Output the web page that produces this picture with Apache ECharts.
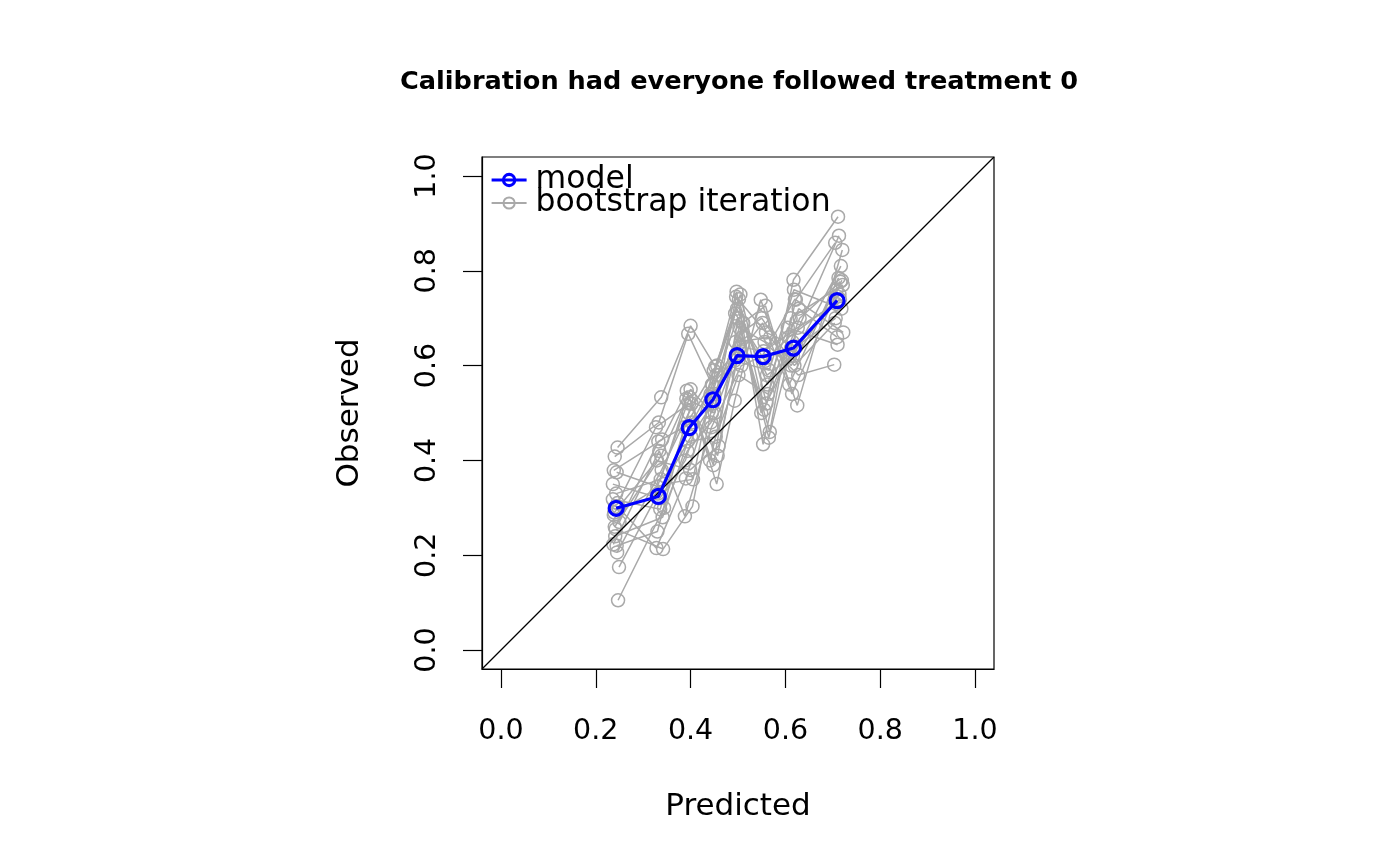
<!DOCTYPE html>
<html>
<head>
<meta charset="utf-8">
<title>Calibration</title>
<script src="https://cdn.jsdelivr.net/npm/echarts@6/dist/echarts.min.js"></script>
<style>
  html, body { margin: 0; padding: 0; background: #fff; }
  #chart { width: 1400px; height: 866px; }
</style>
</head>
<body>
<div id="chart"></div>
<script>
var tickValues = [0, 0.2, 0.4, 0.6, 0.8, 1.0];

var modelX = [0.243, 0.332, 0.397, 0.447, 0.498, 0.553, 0.617, 0.709];
var modelY = [0.299, 0.324, 0.469, 0.528, 0.621, 0.619, 0.637, 0.737];

// one row per bootstrap iteration
var bootX = [
  [0.246, 0.338, 0.400, 0.452, 0.505, 0.560, 0.617, 0.711],
  [0.240, 0.333, 0.395, 0.445, 0.497, 0.553, 0.622, 0.705],
  [0.238, 0.340, 0.392, 0.448, 0.500, 0.565, 0.615, 0.713],
  [0.244, 0.330, 0.398, 0.455, 0.493, 0.548, 0.625, 0.720],
  [0.236, 0.336, 0.402, 0.441, 0.510, 0.558, 0.608, 0.712],
  [0.248, 0.328, 0.390, 0.458, 0.502, 0.555, 0.630, 0.716],
  [0.242, 0.342, 0.404, 0.450, 0.495, 0.568, 0.612, 0.708],
  [0.237, 0.334, 0.388, 0.444, 0.507, 0.551, 0.620, 0.722],
  [0.245, 0.339, 0.396, 0.456, 0.498, 0.562, 0.605, 0.710],
  [0.249, 0.331, 0.401, 0.447, 0.503, 0.556, 0.627, 0.703],
  [0.247, 0.344, 0.393, 0.443, 0.492, 0.566, 0.618, 0.718],
  [0.239, 0.329, 0.399, 0.459, 0.509, 0.549, 0.610, 0.714],
  [0.243, 0.337, 0.391, 0.451, 0.496, 0.559, 0.623, 0.706],
  [0.250, 0.332, 0.403, 0.446, 0.506, 0.552, 0.614, 0.719],
  [0.241, 0.341, 0.394, 0.453, 0.501, 0.563, 0.628, 0.709],
  [0.236, 0.335, 0.389, 0.449, 0.494, 0.557, 0.607, 0.715],
  [0.246, 0.327, 0.397, 0.457, 0.508, 0.550, 0.619, 0.704],
  [0.238, 0.343, 0.405, 0.442, 0.499, 0.567, 0.611, 0.721],
  [0.244, 0.330, 0.387, 0.454, 0.504, 0.554, 0.626, 0.707],
  [0.240, 0.338, 0.400, 0.445, 0.511, 0.561, 0.616, 0.717]
];
var bootY = [
  [0.427, 0.533, 0.684, 0.598, 0.750, 0.520, 0.781, 0.914],
  [0.408, 0.480, 0.667, 0.560, 0.756, 0.434, 0.739, 0.859],
  [0.379, 0.444, 0.547, 0.390, 0.700, 0.448, 0.650, 0.874],
  [0.375, 0.345, 0.533, 0.350, 0.526, 0.739, 0.516, 0.844],
  [0.318, 0.297, 0.520, 0.400, 0.690, 0.726, 0.560, 0.785],
  [0.300, 0.215, 0.362, 0.580, 0.740, 0.507, 0.700, 0.777],
  [0.255, 0.213, 0.303, 0.540, 0.650, 0.660, 0.600, 0.760],
  [0.223, 0.420, 0.282, 0.470, 0.600, 0.620, 0.740, 0.670],
  [0.206, 0.380, 0.500, 0.600, 0.720, 0.560, 0.680, 0.644],
  [0.175, 0.330, 0.450, 0.520, 0.680, 0.650, 0.580, 0.602],
  [0.105, 0.300, 0.420, 0.480, 0.610, 0.590, 0.760, 0.720],
  [0.290, 0.400, 0.380, 0.430, 0.660, 0.500, 0.620, 0.750],
  [0.330, 0.360, 0.530, 0.500, 0.745, 0.670, 0.640, 0.700],
  [0.270, 0.440, 0.480, 0.560, 0.630, 0.690, 0.540, 0.780],
  [0.240, 0.280, 0.440, 0.450, 0.580, 0.540, 0.720, 0.660],
  [0.350, 0.320, 0.400, 0.590, 0.710, 0.610, 0.660, 0.740],
  [0.310, 0.470, 0.520, 0.410, 0.670, 0.700, 0.600, 0.690],
  [0.285, 0.350, 0.360, 0.540, 0.700, 0.460, 0.700, 0.770],
  [0.220, 0.250, 0.470, 0.580, 0.640, 0.630, 0.680, 0.730],
  [0.260, 0.410, 0.550, 0.500, 0.690, 0.580, 0.620, 0.810]
];

var diagonal = [-0.04, 1.04];

function pairs(xs, ys) {
  var out = [];
  for (var i = 0; i < xs.length; i++) out.push([xs[i], ys[i]]);
  return out;
}

var FONT = 'DejaVu Sans';
var GREY = '#a9a9a9';
var BLUE = '#0000ff';

var series = [];
for (var b = 0; b < bootX.length; b++) {
  series.push({
    name: 'bootstrap iteration',
    type: 'line',
    data: pairs(bootX[b], bootY[b]),
    symbol: 'circle',
    symbolSize: 13,
    lineStyle: { color: GREY, width: 1.5 },
    itemStyle: { color: 'rgba(0,0,0,0)', borderColor: GREY, borderWidth: 1.5 },
    z: 2
  });
}
series.push({
  name: 'diag',
  type: 'line',
  data: pairs(diagonal, diagonal),
  symbol: 'none',
  lineStyle: { color: '#000', width: 1.2 },
  z: 3
});
series.push({
  name: 'model',
  type: 'line',
  data: pairs(modelX, modelY),
  symbol: 'circle',
  symbolSize: 14,
  lineStyle: { color: BLUE, width: 3.2 },
  itemStyle: { color: 'rgba(0,0,0,0)', borderColor: BLUE, borderWidth: 3.2 },
  z: 4
});

var axisCommon = {
  type: 'value',
  min: -0.04, max: 1.04,
  nameLocation: 'middle',
  nameTextStyle: { fontFamily: FONT, fontSize: 31, color: '#000' },
  axisLine: { show: true, onZero: false, lineStyle: { color: '#000', width: 1.2 } },
  axisTick: { show: true, inside: false, length: 19, customValues: tickValues, lineStyle: { color: '#000', width: 1.2 } },
  splitLine: { show: false }
};

var chart = echarts.init(document.getElementById('chart'));
chart.setOption({
  animation: false,
  textStyle: { fontFamily: FONT },
  title: {
    text: 'Calibration had everyone followed treatment 0',
    left: 734,
    top: 64,
    textAlign: 'center',
    textStyle: { fontFamily: FONT, fontWeight: 'bold', fontSize: 25.6, color: '#000' }
  },
  legend: {
    data: [
      { name: 'model', lineStyle: { width: 3.2 }, itemStyle: { borderWidth: 3.2 } },
      { name: 'bootstrap iteration' }
    ],
    orient: 'vertical',
    left: 485,
    top: 159,
    itemWidth: 35,
    itemHeight: 14,
    itemGap: -9,
    textStyle: { fontFamily: FONT, fontSize: 31.5, color: '#000', padding: [0, 0, 0, 4] }
  },
  grid: {
    left: 482, right: 406, top: 157, bottom: 197,
    show: true, borderColor: '#000', borderWidth: 1.2
  },
  xAxis: Object.assign({}, axisCommon, {
    name: 'Predicted',
    nameGap: 122,
    axisLabel: {
      customValues: tickValues, margin: 48, fontSize: 28.5, color: '#000', fontFamily: FONT,
      formatter: function (v) { return v.toFixed(1); }
    }
  }),
  yAxis: Object.assign({}, axisCommon, {
    name: 'Observed',
    nameGap: 117,
    axisLabel: {
      customValues: tickValues, margin: 40, rotate: 90, fontSize: 28.5, color: '#000', fontFamily: FONT,
      formatter: function (v) { return v.toFixed(1); }
    }
  }),
  series: series
});
</script>
</body>
</html>
